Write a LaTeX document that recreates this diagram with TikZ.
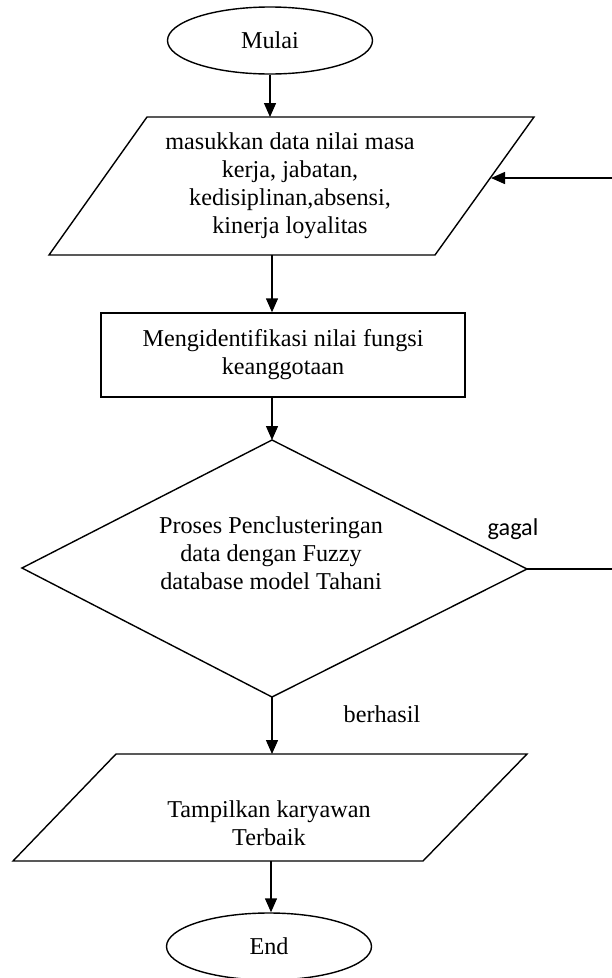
\documentclass[tikz,border=0pt]{standalone}
\usepackage{fontspec}
\setmainfont{Liberation Serif}
\newfontfamily\calibrifont{Carlito}
\usetikzlibrary{shapes.geometric,arrows.meta}
\begin{document}
\begin{tikzpicture}[x=1pt,y=-1pt,line width=1.4pt,
  txt/.style={font=\fontsize{24.2}{28}\selectfont, align=center, inner sep=0pt},
  arr/.style={-{Triangle[length=14pt,width=12pt]}},
  term/.style={draw, ellipse, minimum width=205pt, minimum height=67pt, inner sep=0pt, txt},
  procbox/.style={draw, rectangle, minimum width=364pt, minimum height=84pt, txt}
]
\useasboundingbox (0,0) rectangle (612,978);
\clip (0,0) rectangle (612,978);

% start
\node[term] (mulai) at (270,40.5) {Mulai};

% input parallelogram
\coordinate (p1a) at (147,117);
\coordinate (p1b) at (534,117);
\coordinate (p1c) at (435,255);
\coordinate (p1d) at (49,255);
\draw (p1a) -- (p1b) -- (p1c) -- (p1d) -- cycle;
\node[txt] (inp) at (290,186) {masukkan data nilai masa\\kerja, jabatan,\\kedisiplinan,absensi,\\kinerja loyalitas};
\coordinate (p1top) at (270,117);
\coordinate (p1bot) at (272,255);

% process rectangle
\node[procbox] (ident) at (283,355) {Mengidentifikasi nilai fungsi\\keanggotaan};

% decision diamond
\coordinate (dt) at (272,440);
\coordinate (dr) at (527,569);
\coordinate (db) at (272,697);
\coordinate (dl) at (22,568);
\draw (dt) -- (dr) -- (db) -- (dl) -- cycle;
\node[txt] (proc) at (271,553) {Proses Penclusteringan\\data dengan Fuzzy\\database model Tahani};

% output parallelogram
\coordinate (p2a) at (116,754);
\coordinate (p2b) at (527,754);
\coordinate (p2c) at (423,861);
\coordinate (p2d) at (13,861);
\draw (p2a) -- (p2b) -- (p2c) -- (p2d) -- cycle;
\node[txt] (out) at (269,823) {Tampilkan karyawan\\Terbaik};
\coordinate (p2top) at (272,754);
\coordinate (p2bot) at (271,861);

% end
\node[term] (end) at (269,946.5) {End};

% connectors
\draw[arr] (mulai.south) -- (p1top);
\draw[arr] (p1bot) -- (p1bot |- ident.north);
\draw[arr] (dt |- ident.south) -- (dt);
\draw[arr] (db) -- (p2top);
\draw[arr] (p2bot) -- (p2bot |- end.north);

% loop back (gagal)
\coordinate (gout) at (612,569);
\draw (dr) -- (gout);
\coordinate (fbstart) at (612,178);
\coordinate (fbtip) at (491,178);
\draw[arr] (fbstart) -- (fbtip);

% labels
\node[font=\calibrifont\fontsize{24.2}{28}\selectfont, anchor=base west, inner sep=0pt] (gagal) at (487,535) {gagal};
\node[txt, anchor=base west] (berhasil) at (343,722) {berhasil};
\end{tikzpicture}
\end{document}
